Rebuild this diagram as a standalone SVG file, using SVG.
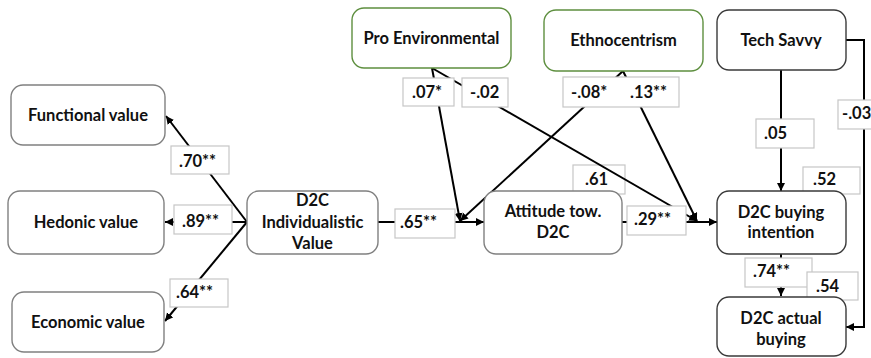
<svg xmlns="http://www.w3.org/2000/svg" width="871" height="358" viewBox="0 0 871 358">
<defs>
<style>
.node{fill:#fff;stroke:#808080;stroke-width:1.4}
.dark{fill:#fff;stroke:#3a3a3a;stroke-width:1.4}
.green{fill:#fff;stroke:#5e8f3f;stroke-width:1.4}
.lbl{fill:#fff;stroke:#c6c6c6;stroke-width:1.2}
.t{font-family:Lato,"Open Sans","Liberation Sans",sans-serif;font-weight:bold;font-size:16.5px;fill:#111}
.c{text-anchor:middle}
.ln{fill:none;stroke:#000;stroke-width:2}
</style>
<marker id="ah" markerUnits="userSpaceOnUse" markerWidth="10" markerHeight="10" refX="8" refY="4" orient="auto">
<path d="M0,0 L8,4 L0,8 z" fill="#000"/>
</marker>
</defs>
<rect width="871" height="358" fill="#fff"/>

<g id="r2-labels">
<rect class="lbl" x="573" y="165" width="52" height="29"/>
<text class="t" x="585" y="185">.61</text>
<rect class="lbl" x="803" y="167" width="57" height="27"/>
<text class="t" x="813" y="185">.52</text>
</g>

<g id="connectors">
<line class="ln" x1="247" y1="222" x2="166" y2="116" marker-end="url(#ah)"/>
<line class="ln" x1="247" y1="222" x2="165" y2="222" marker-end="url(#ah)"/>
<line class="ln" x1="247" y1="222" x2="165" y2="321" marker-end="url(#ah)"/>
<line class="ln" x1="378" y1="222" x2="484" y2="222" marker-end="url(#ah)"/>
<line class="ln" x1="622" y1="222" x2="717" y2="222" marker-end="url(#ah)"/>
<line class="ln" x1="432" y1="68" x2="460" y2="221" marker-end="url(#ah)"/>
<line class="ln" x1="623" y1="71" x2="460" y2="221" marker-end="url(#ah)"/>
<line class="ln" x1="432" y1="68" x2="697" y2="221" marker-end="url(#ah)"/>
<line class="ln" x1="623" y1="71" x2="697" y2="221" marker-end="url(#ah)"/>
<line class="ln" x1="781" y1="70" x2="781" y2="191" marker-end="url(#ah)"/>
<line class="ln" x1="781" y1="254" x2="781" y2="296" marker-end="url(#ah)"/>
<polyline class="ln" points="846,40 864,40 864,327 846,327" marker-end="url(#ah)"/>
</g>

<g id="path-labels">
<rect class="lbl" x="171" y="146" width="58" height="28"/>
<text class="t" x="179" y="167">.70**</text>
<rect class="lbl" x="174" y="205" width="58" height="29"/>
<text class="t" x="182" y="227">.89**</text>
<rect class="lbl" x="170" y="279" width="58" height="28"/>
<text class="t" x="176" y="298">.64**</text>
<rect class="lbl" x="395" y="209" width="60" height="29"/>
<text class="t" x="400" y="228">.65**</text>
<rect class="lbl" x="403" y="78" width="51" height="28"/>
<text class="t" x="412" y="98">.07*</text>
<rect class="lbl" x="462" y="78" width="46" height="29"/>
<text class="t" x="470" y="98">-.02</text>
<rect class="lbl" x="563" y="77" width="116" height="30"/>
<text class="t" x="571" y="98">-.08*</text>
<text class="t" x="630" y="98">.13**</text>
<rect class="lbl" x="627" y="206" width="59" height="29"/>
<text class="t" x="634" y="225">.29**</text>
<rect class="lbl" x="756" y="119" width="58" height="29"/>
<text class="t" x="764" y="139">.05</text>
<rect class="lbl" x="838" y="100" width="40" height="29"/>
<text class="t" x="842" y="119">-.03</text>
<rect class="lbl" x="745" y="258" width="67" height="29"/>
<text class="t" x="753" y="277">.74**</text>
<rect class="lbl" x="807" y="272" width="51" height="28"/>
<text class="t" x="816" y="292">.54</text>
</g>

<g id="functional">
<rect class="node" x="11" y="85" width="154" height="60" rx="12"/>
<text class="t c" x="88" y="121">Functional value</text>
</g>
<g id="hedonic">
<rect class="node" x="8" y="191" width="156" height="63" rx="12"/>
<text class="t c" x="86" y="228">Hedonic value</text>
</g>
<g id="economic">
<rect class="node" x="12" y="292" width="152" height="60" rx="12"/>
<text class="t c" x="88" y="328">Economic value</text>
</g>
<g id="individualistic">
<rect class="node" x="247" y="191" width="131" height="63" rx="12"/>
<text class="t c" x="312.5" y="206">D2C</text>
<text class="t c" x="312.5" y="228">Individualistic</text>
<text class="t c" x="312.5" y="249">Value</text>
</g>
<g id="attitude">
<rect class="node" x="484" y="191" width="138" height="63" rx="12"/>
<text class="t c" x="553" y="217">Attitude tow.</text>
<text class="t c" x="553" y="238">D2C</text>
</g>
<g id="intention">
<rect class="dark" x="717" y="191" width="129" height="63" rx="12"/>
<text class="t c" x="781" y="218">D2C buying</text>
<text class="t c" x="781" y="238">intention</text>
</g>
<g id="actual">
<rect class="dark" x="717" y="297" width="129" height="59" rx="12"/>
<text class="t c" x="781" y="324">D2C actual</text>
<text class="t c" x="781" y="345">buying</text>
</g>
<g id="proenv">
<rect class="green" x="352" y="8" width="159" height="60" rx="12"/>
<text class="t c" x="431.5" y="44">Pro Environmental</text>
</g>
<g id="ethno">
<rect class="green" x="544" y="10" width="159" height="61" rx="12"/>
<text class="t c" x="623.5" y="46">Ethnocentrism</text>
</g>
<g id="techsavvy">
<rect class="dark" x="717" y="10" width="129" height="60" rx="12"/>
<text class="t c" x="781" y="46">Tech Savvy</text>
</g>
</svg>
